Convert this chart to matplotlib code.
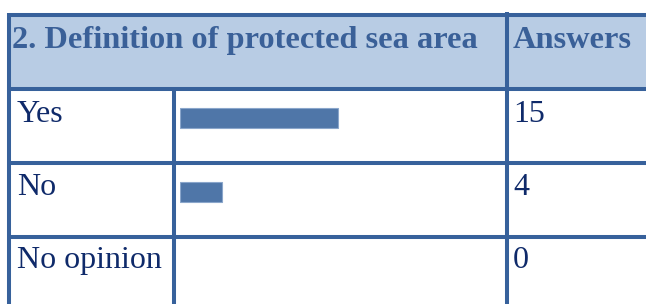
import numpy as np
import matplotlib
matplotlib.use('Agg')
import matplotlib.pyplot as plt

# table content
title = '2. Definition of protected sea area'
col_answers = 'Answers'
categories = ['Yes', 'No', 'No opinion']
answers = [15, 4, 0]

border = '#37619b'
head_fill = '#b8cce4'
head_txt = '#3a6098'
body_txt = '#0f2a6a'
bar_col = '#4f76a8'

W, H = 646, 304
fig = plt.figure(figsize=(W/100, H/100), dpi=100)
ax = fig.add_axes([0, 0, 1, 1])
ax.set_xlim(0, W)
ax.set_ylim(H, 0)
ax.axis('off')

serif = 'Liberation Serif'
lw = 2.9

# header band
ax.fill_between([9, W], 15, 89, color=head_fill, lw=0)

# grid lines
row_lines = [15, 89, 163, 237]
for y in row_lines:
    ax.plot([9, W], [y, y], color=border, lw=lw, solid_capstyle='butt')
ax.plot([9, 9], [13, H], color=border, lw=lw, solid_capstyle='butt')
ax.plot([507, 507], [12, H], color=border, lw=lw, solid_capstyle='butt')
ax.plot([174, 174], [89, H], color=border, lw=lw, solid_capstyle='butt')

# header text
ax.text(12, 48, title, fontsize=23.3, fontweight='bold', color=head_txt,
        family=serif, va='baseline', ha='left')
ax.text(513, 48, col_answers, fontsize=23.3, fontweight='bold', color=head_txt,
        family=serif, va='baseline', ha='left')

# body rows
baselines = [122, 195, 268]
for cat, val, yb in zip(categories, answers, baselines):
    ax.text(17, yb, cat, fontsize=23, color=body_txt, family=serif,
            va='baseline', ha='left')
    ax.text(513, yb, str(val), fontsize=23, color=body_txt, family=serif,
            va='baseline', ha='left')

# bars in their own axes: 10.5 px per answer, rows 74 px apart
x0, x1 = 180, 180 + 10.5*30
y_top, y_bot = 89, 304
bx = fig.add_axes([x0/W, (H-y_bot)/H, (x1-x0)/W, (y_bot-y_top)/H])
bx.set_xlim(0, 30)
bx.set_ylim((y_bot-118)/74, (y_top-118)/74)
bx.axis('off')
bx.patch.set_alpha(0)
bx.barh(np.arange(len(categories)), answers, height=20/74, left=0,
        color=bar_col, edgecolor='#8aa6cb',
        lw=[0.8 if v > 0 else 0 for v in answers])

fig.savefig('out.png', dpi=100)
